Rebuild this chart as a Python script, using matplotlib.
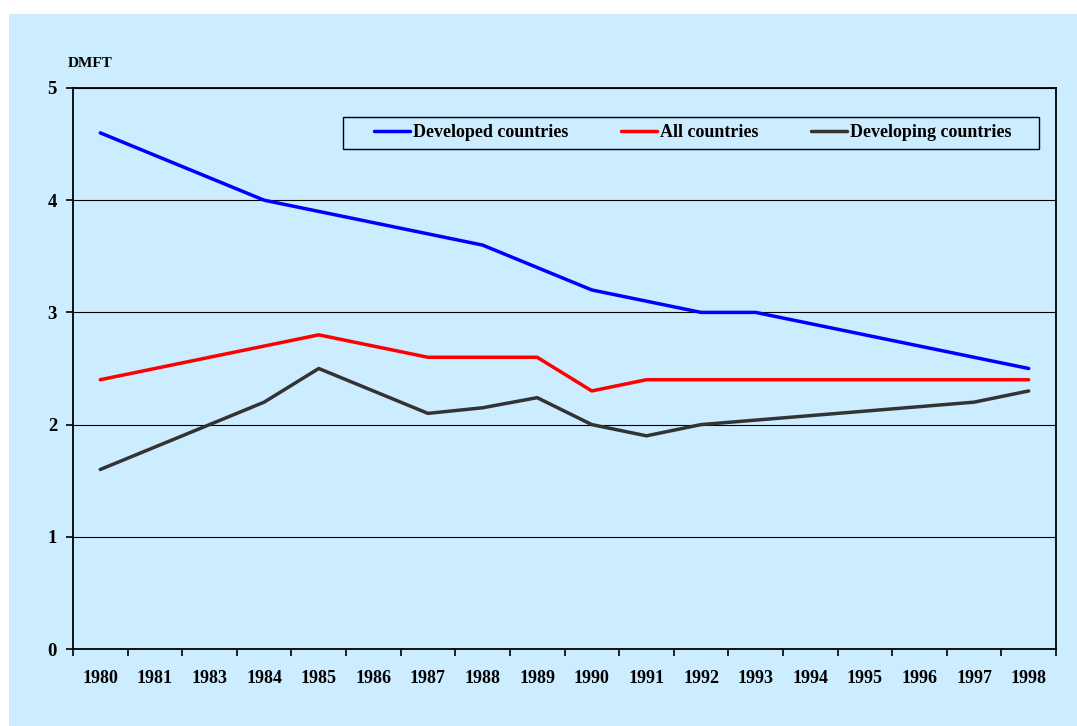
import matplotlib.pyplot as plt
import numpy as np
from matplotlib.patches import Rectangle

years = ["1980", "1981", "1983", "1984", "1985", "1986", "1987", "1988", "1989",
         "1990", "1991", "1992", "1993", "1994", "1995", "1996", "1997", "1998"]
developed = [4.6, 4.4, 4.2, 4.0, 3.9, 3.8, 3.7, 3.6, 3.4,
             3.2, 3.1, 3.0, 3.0, 2.9, 2.8, 2.7, 2.6, 2.5]
all_countries = [2.4, 2.5, 2.6, 2.7, 2.8, 2.7, 2.6, 2.6, 2.6,
                 2.3, 2.4, 2.4, 2.4, 2.4, 2.4, 2.4, 2.4, 2.4]
developing = [1.6, 1.8, 2.0, 2.2, 2.5, 2.3, 2.1, 2.15, 2.24,
              2.0, 1.9, 2.0, 2.04, 2.08, 2.12, 2.16, 2.2, 2.3]
y_ticks = [0, 1, 2, 3, 4, 5]

bg = "#CCECFF"
plt.rcParams["font.family"] = ["Liberation Serif", "DejaVu Serif"]
plt.rcParams["font.weight"] = "bold"

W, H = 1077, 726
fig = plt.figure(figsize=(W / 100, H / 100), dpi=100, facecolor="white")
fig.add_artist(Rectangle((9 / W, 0), 1 - 9 / W, 1 - 14 / H, transform=fig.transFigure,
                         facecolor=bg, edgecolor="none", zorder=-5))

ax = fig.add_axes([73 / W, 77 / H, 983 / W, 561 / H])
ax.set_facecolor(bg)

x = np.arange(len(years))
kw = dict(lw=2.5, solid_capstyle="round", solid_joinstyle="round", zorder=3)
ax.plot(x, developed, color="#0000FF", label="Developed countries", **kw)
ax.plot(x, all_countries, color="#FF0000", label="All countries", **kw)
ax.plot(x, developing, color="#333333", label="Developing countries", **kw)

ax.set_xlim(-0.5, len(years) - 0.5)
ax.set_ylim(0, 5)
ax.set_yticks(y_ticks)
ax.set_yticklabels([str(v) for v in y_ticks], fontsize=13.5, fontweight="bold")
ax.set_xticks(x)
ax.set_xticklabels(years, fontsize=13, fontweight="bold")
ax.set_xticks(np.arange(len(years) + 1) - 0.5, minor=True)
ax.tick_params(axis="x", which="major", length=0, pad=15)
ax.tick_params(axis="x", which="minor", length=5, width=1.2, direction="out")
ax.tick_params(axis="y", length=5, width=1.2, direction="out", pad=6.5)

for v in y_ticks[1:]:
    ax.axhline(v, color="black", lw=0.8, zorder=1)
for s in ax.spines.values():
    s.set_color("black")
    s.set_linewidth(1.3)

ax.text(-0.19, 5.22, "DMFT", ha="center", va="center", fontsize=11, fontweight="bold",
        clip_on=False)

# legend frame drawn separately so the entries can be spread like the original
ax.add_patch(Rectangle((0.2747, 0.891), 0.708, 0.057, transform=ax.transAxes,
                       facecolor=bg, edgecolor="black", lw=1.0, zorder=4))
leg = ax.legend(loc="center", bbox_to_anchor=(0.3062, 0.8915, 0.649, 0.057), mode="expand",
                ncol=3, frameon=False, handlelength=2.0, handletextpad=0.17,
                borderaxespad=0, borderpad=0, prop={"weight": "bold", "size": 13})
leg.set_zorder(5)

fig.savefig("out.png", dpi=100, facecolor=fig.get_facecolor())
